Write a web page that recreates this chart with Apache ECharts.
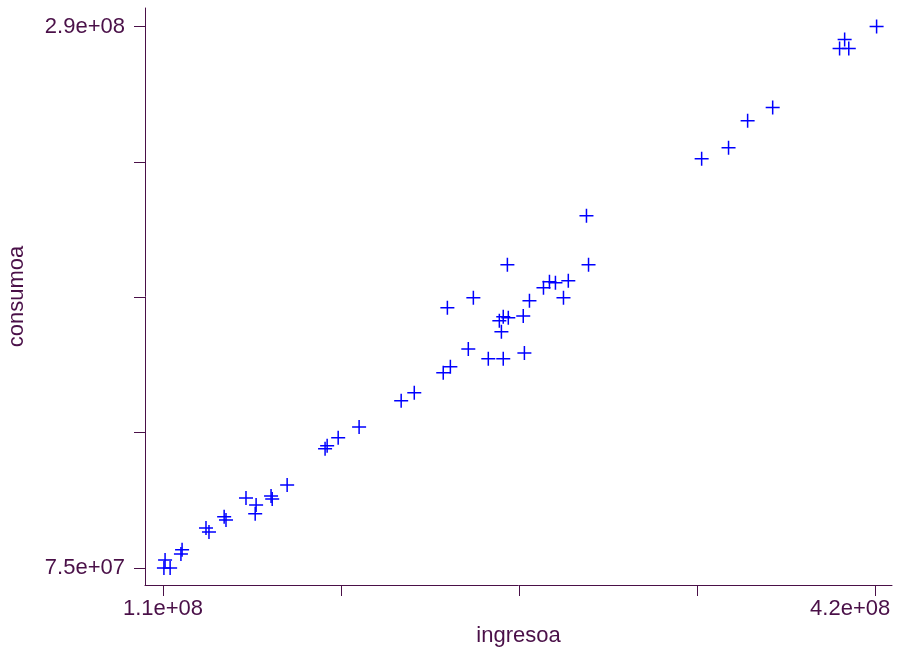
<!DOCTYPE html>
<html>
<head>
<meta charset="utf-8">
<script src="https://cdn.jsdelivr.net/npm/echarts@6/dist/echarts.min.js"></script>
<style>
  html, body { margin: 0; padding: 0; background: #fff; }
  #chart { width: 898px; height: 647px; }
</style>
</head>
<body>
<div id="chart"></div>
<script>
// ingresoa (x) / consumoa (y)
var ingresoa = [
  1.109e8, 1.104e8, 1.131e8, 1.183e8, 1.178e8, 1.287e8, 1.300e8, 1.366e8, 1.374e8, 1.461e8,
  1.505e8, 1.501e8, 1.570e8, 1.575e8, 1.640e8, 1.805e8, 1.814e8, 1.862e8, 1.953e8, 2.136e8,
  2.193e8, 2.319e8, 2.350e8, 2.428e8, 2.515e8, 2.580e8, 2.672e8, 2.572e8, 2.563e8, 2.580e8,
  2.602e8, 2.667e8, 2.694e8, 2.337e8, 2.450e8, 2.598e8, 2.951e8, 2.942e8, 2.755e8, 2.781e8,
  2.807e8, 2.863e8, 2.842e8, 3.443e8, 3.560e8, 3.643e8, 3.752e8, 4.043e8, 4.083e8, 4.065e8,
  4.204e8
];
var consumoa = [
  7.82e7, 7.50e7, 7.50e7, 8.22e7, 8.06e7, 9.09e7, 8.93e7, 9.53e7, 9.41e7, 1.028e8,
  1.000e8, 9.65e7, 1.036e8, 1.024e8, 1.080e8, 1.223e8, 1.235e8, 1.267e8, 1.310e8, 1.414e8,
  1.446e8, 1.525e8, 1.549e8, 1.620e8, 1.581e8, 1.581e8, 1.604e8, 1.688e8, 1.732e8, 1.748e8,
  1.744e8, 1.751e8, 1.811e8, 1.783e8, 1.823e8, 1.954e8, 1.954e8, 2.149e8, 1.863e8, 1.887e8,
  1.883e8, 1.891e8, 1.823e8, 2.375e8, 2.419e8, 2.526e8, 2.578e8, 2.813e8, 2.813e8, 2.848e8,
  2.900e8
];

var xTicks = [1.1e8, 1.875e8, 2.65e8, 3.425e8, 4.2e8];
var xLabelValues = [1.1e8, 4.2e8];
var xLabelTexts = ['1.1e+08', '4.2e+08'];
var yTicks = [7.5e7, 1.2875e8, 1.825e8, 2.3625e8, 2.9e8];
var yLabelValues = [7.5e7, 2.9e8];
var yLabelTexts = ['7.5e+07', '2.9e+08'];

var ink = '#4a1048';
var font = 'Liberation Sans, Arial, sans-serif';

var points = ingresoa.map(function (x, i) { return [x, consumoa[i]]; });

// plus-sign marker
var plus = 'path://M6.25,0 h1.5 v6.25 h6.25 v1.5 h-6.25 v6.25 h-1.5 v-6.25 h-6.25 v-1.5 h6.25 z';

var myChart = echarts.init(document.getElementById('chart'), null, { renderer: 'canvas' });
myChart.setOption({
  animation: false,
  backgroundColor: '#ffffff',
  grid: { left: 145, right: 6, top: 8, bottom: 62, containLabel: false, outerBoundsMode: 'none' },
  xAxis: {
    type: 'value',
    min: 1.0217e8,
    max: 4.271e8,
    name: 'ingresoa',
    nameLocation: 'middle',
    nameGap: 35,
    nameTextStyle: { color: ink, fontSize: 22, fontFamily: font },
    splitLine: { show: false },
    axisLine: { show: true, lineStyle: { color: ink, width: 1 } },
    axisTick: { show: true, length: 11, customValues: xTicks, lineStyle: { color: ink, width: 1 } },
    axisLabel: {
      customValues: xLabelValues,
      margin: 13,
      color: ink,
      fontSize: 22,
      fontFamily: font,
      formatter: function (v) {
        var i = xLabelValues.indexOf(v);
        var t = i >= 0 ? xLabelTexts[i] : '';
        return i === xLabelValues.length - 1 ? '{r|' + t + '}' : t;
      },
      rich: { r: { color: ink, fontSize: 22, fontFamily: font, padding: [0, 51, 0, 0] } }
    }
  },
  yAxis: {
    type: 'value',
    min: 6.825e7,
    max: 2.9735e8,
    name: 'consumoa',
    nameLocation: 'middle',
    nameGap: 117,
    nameTextStyle: { color: ink, fontSize: 22, fontFamily: font },
    splitLine: { show: false },
    axisLine: { show: true, lineStyle: { color: ink, width: 1 } },
    axisTick: { show: true, length: 11, customValues: yTicks, lineStyle: { color: ink, width: 1 } },
    axisLabel: {
      customValues: yLabelValues,
      margin: 20,
      color: ink,
      fontSize: 22,
      fontFamily: font,
      formatter: function (v) {
        var i = yLabelValues.indexOf(v);
        return i >= 0 ? yLabelTexts[i] : '';
      }
    }
  },
  series: [{
    type: 'scatter',
    data: points,
    symbol: plus,
    symbolSize: 14,
    itemStyle: { color: '#0000ff', opacity: 1 }
  }]
});
</script>
</body>
</html>
